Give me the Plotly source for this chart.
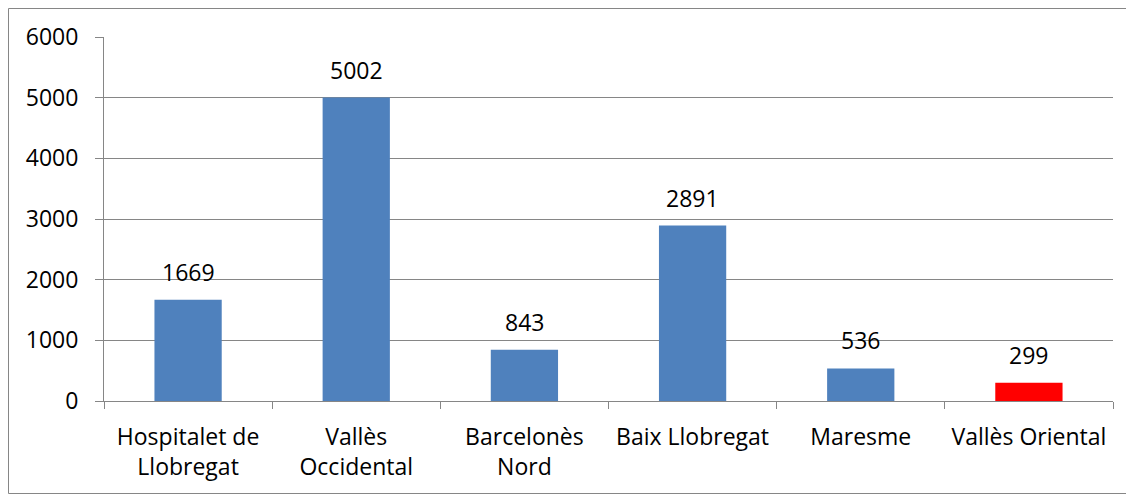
import plotly.graph_objects as go

categories = ["Hospitalet de<br>Llobregat", "Vallès<br>Occidental", "Barcelonès<br>Nord",
              "Baix Llobregat", "Maresme", "Vallès Oriental"]
values = [1669, 5002, 843, 2891, 536, 299]
bar_colors = ["#4F81BD", "#4F81BD", "#4F81BD", "#4F81BD", "#4F81BD", "#FF0000"]
y_ticks = [0, 1000, 2000, 3000, 4000, 5000, 6000]

# page body has an 8px margin, so the figure is offset by 8px
W, H = 1126, 487
L, R, T, B = 96, 21, 29, 94
pw, ph = W - L - R, H - T - B
FS = 23

fig = go.Figure(go.Bar(
    x=categories, y=values, marker=dict(color=bar_colors, line=dict(width=0)),
    hoverinfo="x+y",
))

for c, v in zip(categories, values):
    fig.add_annotation(x=c, y=v, text=str(v), showarrow=False, yanchor="bottom",
                       yshift=10, font=dict(size=FS, color="#000000"))

grey = "#868686"
fig.update_layout(
    width=W, height=H, margin=dict(l=L, r=R, t=T, b=B, autoexpand=False),
    paper_bgcolor="white", plot_bgcolor="white",
    font=dict(family="Open Sans", size=FS, color="#000000"),
    bargap=0.6, showlegend=False,
    xaxis=dict(showline=True, linecolor=grey, linewidth=1, ticks="outside",
               tickson="boundaries", ticklen=7, tickcolor=grey, showgrid=False,
               tickfont=dict(size=FS), ticklabelstandoff=15),
    yaxis=dict(range=[0, 6000], tickvals=y_ticks, showline=True, linecolor=grey,
               linewidth=1, ticks="outside", ticklen=8, tickcolor=grey,
               showgrid=True, gridcolor=grey, gridwidth=1, zeroline=False,
               tickfont=dict(size=FS), ticklabelstandoff=12),
    shapes=[dict(type="rect", xref="paper", yref="paper",
                 x0=(0.5 - L) / pw, x1=(1124.5 - L) / pw,
                 y0=(H - B - 485.5) / ph, y1=(H - B - 0.5) / ph,
                 line=dict(color=grey, width=1), fillcolor="rgba(0,0,0,0)")],
)

fig.write_html("out.html")
